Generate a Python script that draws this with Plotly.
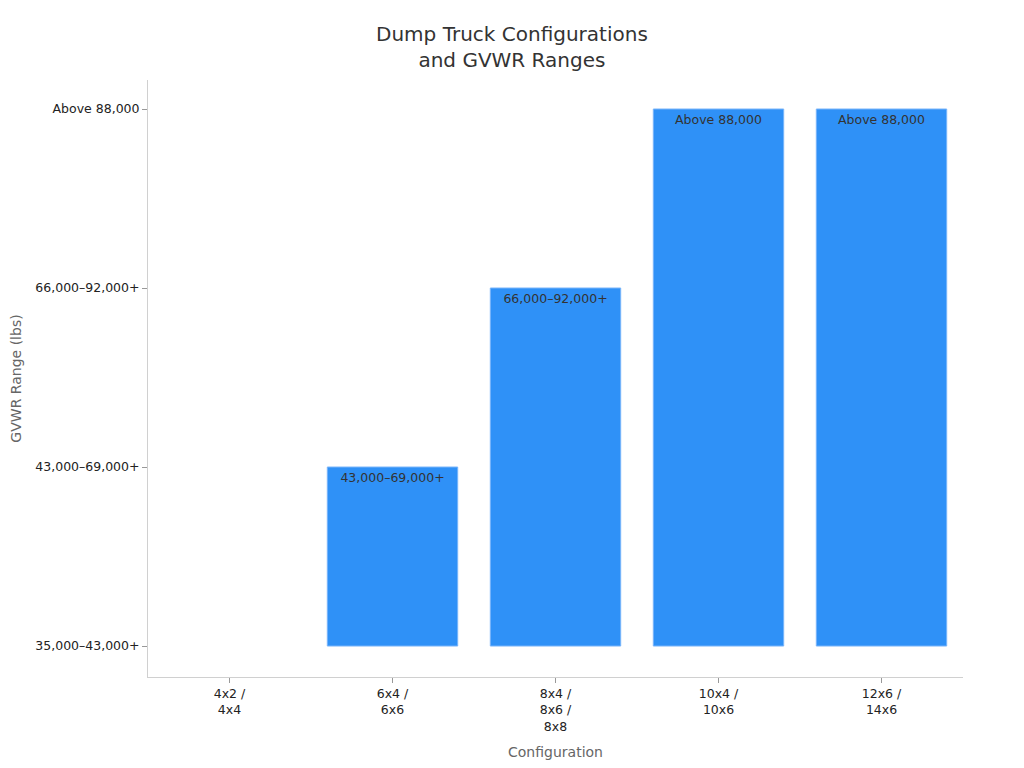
import plotly.graph_objects as go

configurations = ["4x2 /<br>4x4", "6x4 /<br>6x6", "8x4 /<br>8x6 /<br>8x8", "10x4 /<br>10x6", "12x6 /<br>14x6"]
gvwr_levels = ["35,000–43,000+", "43,000–69,000+", "66,000–92,000+", "Above 88,000"]
gvwr_values = ["35,000–43,000+", "43,000–69,000+", "66,000–92,000+", "Above 88,000", "Above 88,000"]

fig = go.Figure()
fig.add_trace(go.Bar(
    x=configurations,
    y=gvwr_values,
    text=gvwr_values,
    textposition="inside",
    insidetextanchor="end",
    textfont=dict(family="DejaVu Sans", size=12.5, color="#333333"),
    marker=dict(color="rgb(47,145,247)",
                line=dict(color="rgba(120,180,250,1)", width=[0, 1, 1, 1, 1])),
    hoverinfo="x+y",
))

fig.update_layout(
    width=1016, height=760,
    paper_bgcolor="white", plot_bgcolor="white",
    margin=dict(l=140, r=61, t=72, b=91, autoexpand=False),
    font=dict(family="DejaVu Sans", color="#222222"),
    title=dict(text="Dump Truck Configurations<br>and GVWR Ranges", x=0.496, xanchor="center",
               y=0.956, yanchor="top",
               font=dict(family="DejaVu Sans", size=20, color="#333333")),
    bargap=0.2,
    uniformtext=dict(minsize=11, mode="hide"),
    showlegend=False,
)
fig.update_xaxes(
    type="category", automargin=False,
    showline=True, linecolor="#d0d0d0", linewidth=1,
    ticks="outside", tickcolor="#999999", ticklen=5,
    showgrid=False, zeroline=False,
    tickfont=dict(family="DejaVu Sans", size=12.5, color="#222222"),
    title=dict(text="Configuration", font=dict(family="DejaVu Sans", size=14, color="#666666"), standoff=14),
    range=[-0.5, 4.5],
)
fig.update_yaxes(
    type="category", automargin=False, categoryorder="array", categoryarray=gvwr_levels,
    showline=True, linecolor="#d0d0d0", linewidth=1,
    ticks="outside", tickcolor="#999999", ticklen=5,
    showgrid=False, zeroline=False,
    tickfont=dict(family="DejaVu Sans", size=12.5, color="#222222"),
    title=dict(text="GVWR Range (lbs)", font=dict(family="DejaVu Sans", size=14, color="#666666")),
    range=[-0.173, 3.162],
)

fig.write_html("out.html")
